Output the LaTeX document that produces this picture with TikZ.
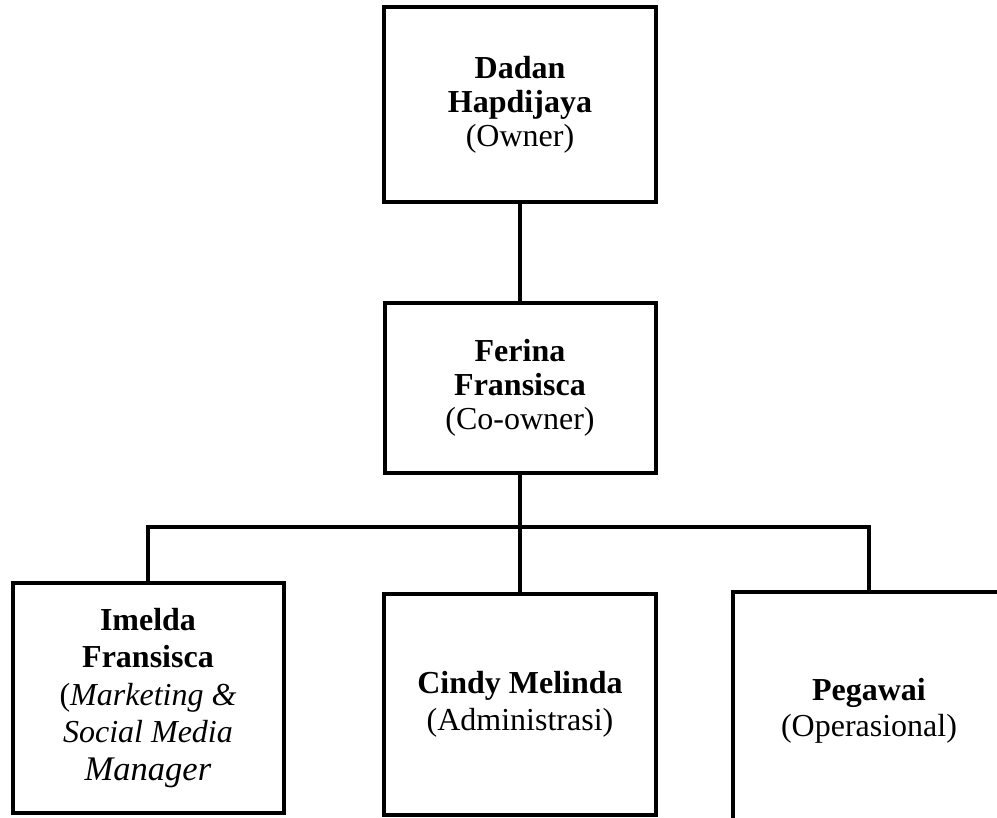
\documentclass[tikz,border=0pt]{standalone}
\usepackage{fontspec}
\setmainfont{Liberation Serif}
\begin{document}
\begin{tikzpicture}[x=1pt,y=-1pt,
  orgbox/.style={draw=black, line width=4pt, rectangle, inner sep=0pt,
    align=center, font=\fontsize{32}{34}\selectfont},
  conn/.style={draw=black, line width=4pt}]
\useasboundingbox (0,0) rectangle (997,818);
\clip (0,0) rectangle (997,818);
\node[orgbox, minimum width=272pt, minimum height=195pt] (owner) at (520,104.5)
  {\textbf{Dadan}\\\textbf{Hapdijaya}\\(Owner)};
\node[orgbox, minimum width=271pt, minimum height=170pt] (coowner) at (520,388)
  {\textbf{Ferina}\\\textbf{Fransisca}\\(Co-owner)};
\node[orgbox, minimum width=271pt, minimum height=230pt,
  font=\fontsize{32}{37.5}\selectfont] (imelda) at (148,698)
  {\textbf{Imelda}\\\textbf{Fransisca}\\(\textit{Marketing \&}\\\textit{Social Media}\\{\fontsize{34.5}{37.5}\selectfont\textit{Manager}}};
\node[orgbox, minimum width=272pt, minimum height=221pt,
  font=\fontsize{32}{37}\selectfont] (cindy) at (520,704)
  {\textbf{Cindy Melinda}\\(Administrasi)};
\node[orgbox, minimum width=272pt, minimum height=238pt,
  font=\fontsize{32}{36}\selectfont] (pegawai) at (869,711)
  {\textbf{Pegawai}\\(Operasional)};
\coordinate (bus) at (520,527);
\draw[conn] (owner.south) -- (coowner.north);
\draw[conn] (coowner.south) -- (cindy.north);
\draw[conn] (imelda.north) |- (bus) -| (pegawai.north);
\end{tikzpicture}
\end{document}
